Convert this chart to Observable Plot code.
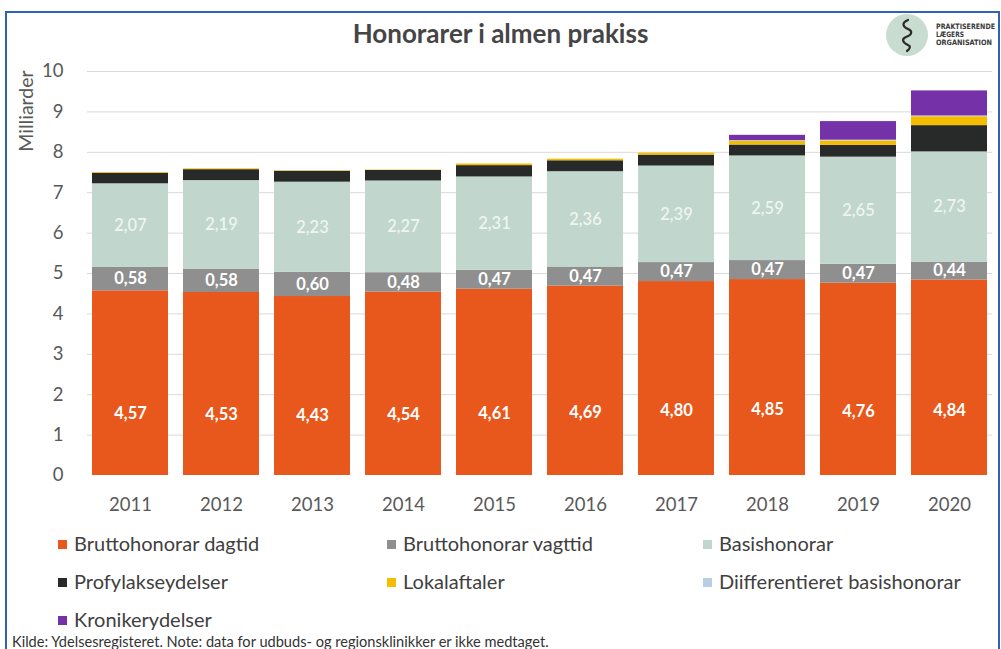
<!DOCTYPE html>
<html>
<head>
<meta charset="utf-8">
<script src="https://cdn.jsdelivr.net/npm/d3@7"></script>
<script src="https://cdn.jsdelivr.net/npm/@observablehq/plot@0.6"></script>
<style>
  html, body { margin: 0; padding: 0; background: #fff; }
  #wrap { position: relative; width: 1001px; height: 649px; overflow: hidden; font-family: Lato, "Open Sans", sans-serif; }
  #frame { position: absolute; left: 5px; top: 11px; width: 995px; height: 700px; border: 2px solid #2f62b0; box-sizing: border-box; }
  #title { position: absolute; top: 17px; left: 0; width: 1001px; text-align: center; font-size: 26px; font-weight: 700; color: #454545; }
  #ylab { position: absolute; left: 25px; top: 111px; transform: translate(-50%, -50%) rotate(-90deg); font-size: 19.5px; color: #595959; white-space: nowrap; }
  #chart { position: absolute; left: 0; top: 0; }
  .leg { position: absolute; font-size: 20px; color: #404040; white-space: nowrap; line-height: 1; }
  .leg span.sw { display: inline-block; width: 9px; height: 9px; margin-right: 7px; vertical-align: 2px; }
  #caption { position: absolute; left: 12px; top: 633px; font-size: 14.6px; color: #333; white-space: nowrap; }
  #logo { position: absolute; left: 880px; top: 13px; }
</style>
</head>
<body>
<div id="wrap">
  <div id="frame"></div>
  <div id="chart"></div>
  <div id="title">Honorarer i almen prakiss</div>
  <div id="ylab">Milliarder</div>
  <svg id="logo" width="118" height="48">
    <circle cx="27" cy="22" r="21" fill="#c8dccf"></circle>
    <path d="M28 7 C21 10, 23 14, 28 16 C33 18, 32 22, 26 24 C21 26, 23 30, 28 32 C31 33, 30 36, 27 38" fill="none" stroke="#2a2a2a" stroke-width="2.2" stroke-linecap="round"></path>
    <text x="56" y="16" font-size="7.4" font-weight="700" fill="#3a3a3a" textLength="59" lengthAdjust="spacingAndGlyphs" font-family="'DejaVu Sans Condensed', sans-serif">PRAKTISERENDE</text>
    <text x="56" y="24" font-size="7.4" font-weight="700" fill="#3a3a3a" textLength="28" lengthAdjust="spacingAndGlyphs" font-family="'DejaVu Sans Condensed', sans-serif">LÆGERS</text>
    <text x="56" y="32" font-size="7.4" font-weight="700" fill="#3a3a3a" textLength="56" lengthAdjust="spacingAndGlyphs" font-family="'DejaVu Sans Condensed', sans-serif">ORGANISATION</text>
  </svg>
  <div id="legend"></div>
  <div id="caption">Kilde: Ydelsesregisteret. Note: data for udbuds- og regionsklinikker er ikke medtaget.</div>
</div>
<script>
const years = ["2011","2012","2013","2014","2015","2016","2017","2018","2019","2020"];
const dagtid     = [4.57, 4.53, 4.43, 4.54, 4.61, 4.69, 4.80, 4.85, 4.76, 4.84];
const vagttid    = [0.58, 0.58, 0.60, 0.48, 0.47, 0.47, 0.47, 0.47, 0.47, 0.44];
const basis      = [2.07, 2.19, 2.23, 2.27, 2.31, 2.36, 2.39, 2.59, 2.65, 2.73];
const profylakse = [0.26, 0.27, 0.27, 0.26, 0.28, 0.27, 0.27, 0.27, 0.29, 0.65];
const lokal      = [0.02, 0.02, 0.01, 0.01, 0.04, 0.04, 0.05, 0.09, 0.11, 0.22];
const diffBasis  = [0, 0, 0, 0, 0, 0, 0, 0.02, 0.02, 0.02];
const kroniker   = [0, 0, 0, 0, 0, 0, 0, 0.13, 0.46, 0.62];

const seriesNames = ["Bruttohonorar dagtid","Bruttohonorar vagttid","Basishonorar","Profylakseydelser","Lokalaftaler","Diifferentieret basishonorar","Kronikerydelser"];
const seriesColors = ["#e8571c","#8f8f8f","#c1d6cc","#272a29","#f4bd00","#b9cde3","#7531a8"];
const seriesValues = [dagtid, vagttid, basis, profylakse, lokal, diffBasis, kroniker];
const yTicks = [0,1,2,3,4,5,6,7,8,9,10];

const fmt = v => d3.format(".2f")(v).replace(".", ",");

const long = [];
seriesNames.forEach((s, si) => {
  years.forEach((yr, i) => long.push({year: yr, series: s, value: seriesValues[si][i]}));
});

const dagLabels = years.map((yr, i) => ({year: yr, y: dagtid[i] / 3, text: fmt(dagtid[i])}));
const vagLabels = years.map((yr, i) => ({year: yr, y: dagtid[i] + vagttid[i] / 2, text: fmt(vagttid[i])}));
const basLabels = years.map((yr, i) => ({year: yr, y: dagtid[i] + vagttid[i] + basis[i] / 2, text: fmt(basis[i])}));

const chart = Plot.plot({
  width: 1001,
  height: 520,
  marginLeft: 87,
  marginRight: 9,
  marginTop: 71,
  marginBottom: 45,
  style: {fontFamily: "Lato, 'Open Sans', sans-serif", fontSize: "18.5px", color: "#595959", background: "transparent"},
  x: {type: "band", domain: years, paddingInner: 0.167, paddingOuter: 0.045, label: null, tickSize: 0, tickPadding: 22},
  y: {domain: [0, 10], ticks: yTicks, label: null, tickSize: 0, tickPadding: 24},
  color: {domain: seriesNames, range: seriesColors},
  marks: [
    Plot.ruleY(yTicks.slice(1), {stroke: "#d9d9d9", strokeWidth: 1}),
    Plot.barY(long, {x: "year", y: "value", fill: "series", order: seriesNames}),
    Plot.text(dagLabels, {x: "year", y: "y", text: "text", fill: "#ffffff", fontSize: 16.5, fontWeight: 700}),
    Plot.text(vagLabels, {x: "year", y: "y", text: "text", fill: "#ffffff", fontSize: 16.5, fontWeight: 700}),
    Plot.text(basLabels, {x: "year", y: "y", text: "text", fill: "#eef4f1", fontSize: 16.5, fontWeight: 600})
  ]
});
document.getElementById("chart").appendChild(chart);

// legend
const legPos = [[58, 533], [387, 533], [703, 533], [58, 571], [387, 571], [703, 571], [58, 609]];
const leg = document.getElementById("legend");
seriesNames.forEach((s, i) => {
  const d = document.createElement("div");
  d.className = "leg";
  d.style.left = legPos[i][0] + "px";
  d.style.top = legPos[i][1] + "px";
  d.innerHTML = `<span class="sw" style="background:${seriesColors[i]}"></span>${s}`;
  leg.appendChild(d);
});
</script>
</body>
</html>
